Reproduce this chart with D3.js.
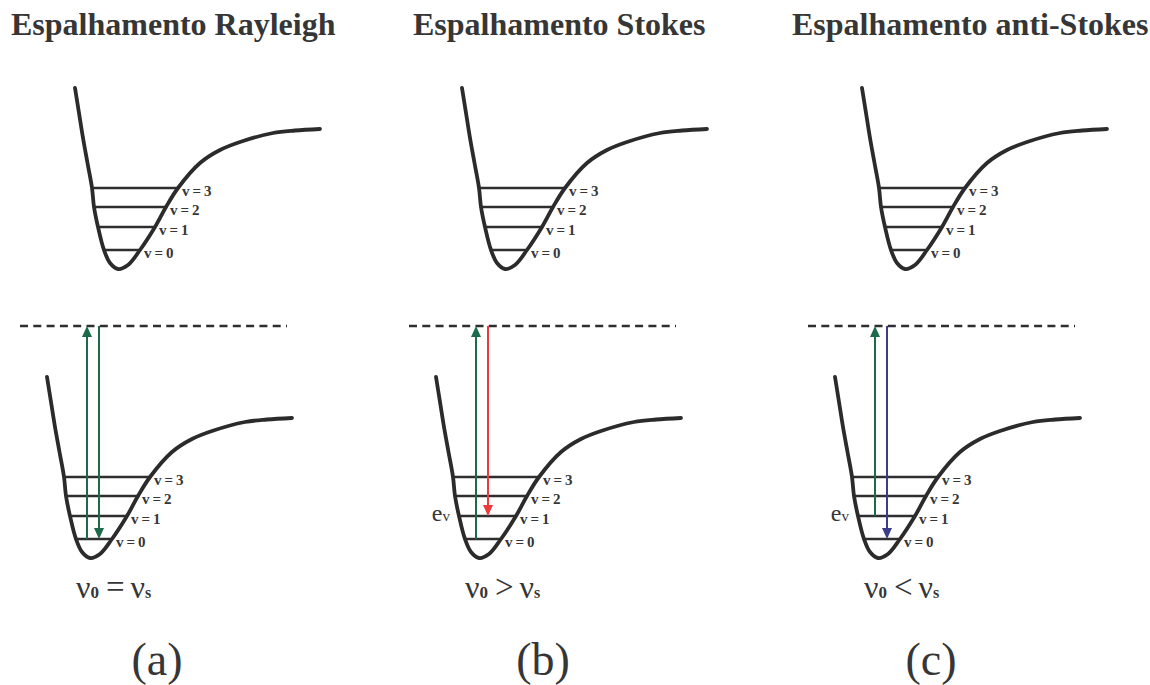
<!DOCTYPE html>
<html>
<head>
<meta charset="utf-8">
<script src="https://cdn.jsdelivr.net/npm/d3@7"></script>
<style>
  body { margin: 0; background: #fff; }
  svg { display: block; }
  text { font-family: "Liberation Serif", "Times New Roman", serif; fill: #363636; }
</style>
</head>
<body>
<div id="chart"></div>
<script>
// potential well shape (r = internuclear distance, E = energy)
var wellR = [0, 4, 8, 12.5, 17, 19, 23, 29, 35, 43, 53, 65, 80, 91, 103, 125, 145, 165, 198, 220, 245];
var wellE = [181, 156, 131, 106, 81, 62, 42, 19, 6, 0, 4, 19, 42, 62, 81, 106, 119, 127, 136, 138.5, 140];

// vibrational levels v = 0..3
var levelNames = ["v = 0", "v = 1", "v = 2", "v = 3"];
var levelE = [19, 42, 62, 81];
var levelLeft = [29, 23, 19, 17];
var levelRight = [65, 80, 91, 103];

// virtual state (dashed line)
var virtualE = 232;
var virtualR = [-27, 240];

var titles = ["Espalhamento Rayleigh", "Espalhamento Stokes", "Espalhamento anti-Stokes"];
var panelTags = ["(a)", "(b)", "(c)"];
var relations = ["=", ">", "<"];
// transitions: up from level, down to level
var upFrom = [0, 0, 1];
var downTo = [0, 1, 0];
var downColors = ["#1b6b4b", "#ec3a3c", "#3a3d8a"];
var upColor = "#1b6b4b";
var showEv = [false, true, true];

const W = 1150, H = 685;
var upperX = [75, 462, 862], upperY = 269;
var lowerX = [47, 436, 835], lowerY = 558;
var titleX = [11, 413, 792];
var tagX = [157, 543, 931];

var svg = d3.select("#chart").append("svg")
  .attr("width", W)
  .attr("height", H);

svg.append("rect").attr("width", W).attr("height", H).attr("fill", "#fff");

var wellPts = wellR.map((r, i) => [r, wellE[i]]);

function drawWell(g, ox, oy, lower, p) {
  var x = d3.scaleLinear().domain([0, 245]).range([ox, ox + 245]);
  var y = d3.scaleLinear().domain([0, 181]).range([oy, oy - 181]);

  var line = d3.line()
    .x(d => x(d[0]))
    .y(d => y(d[1]))
    .curve(d3.curveCatmullRom.alpha(0.5));

  // levels
  g.selectAll(".level")
    .data(levelE).enter()
    .append("line")
    .attr("class", "level")
    .attr("x1", (d, i) => x(levelLeft[i]))
    .attr("x2", (d, i) => x(levelRight[i]))
    .attr("y1", d => y(d))
    .attr("y2", d => y(d))
    .attr("stroke", "#2e2e2e")
    .attr("stroke-width", 2.4);

  g.append("path")
    .attr("d", line(wellPts))
    .attr("fill", "none")
    .attr("stroke", "#2b2b2b")
    .attr("stroke-width", 3.8)
    .attr("stroke-linecap", "round");

  g.selectAll(".vlab")
    .data(levelNames).enter()
    .append("text")
    .attr("class", "vlab")
    .attr("x", (d, i) => x(levelRight[i]) + 4)
    .attr("y", (d, i) => y(levelE[i]) + 8)
    .attr("font-size", 15)
    .attr("font-weight", "bold")
    .attr("letter-spacing", -0.4)
    .text(d => d);

  if (!lower) return;

  // virtual state
  g.append("line")
    .attr("x1", x(virtualR[0]))
    .attr("x2", x(virtualR[1]))
    .attr("y1", y(virtualE))
    .attr("y2", y(virtualE))
    .attr("stroke", "#2e2e2e")
    .attr("stroke-width", 2.4)
    .attr("stroke-dasharray", "8,5.3");

  function arrow(r, eFrom, eTo, color) {
    var x0 = x(r), y0 = y(eFrom), y1 = y(eTo);
    var dir = y1 < y0 ? 1 : -1; // 1 = pointing up
    g.append("line")
      .attr("x1", x0).attr("x2", x0)
      .attr("y1", y0).attr("y2", y1 + dir * 8)
      .attr("stroke", color)
      .attr("stroke-width", 2);
    g.append("path")
      .attr("d", `M${x0},${y1} L${x0 - 5},${y1 + dir * 11} L${x0 + 5},${y1 + dir * 11} Z`)
      .attr("fill", color);
  }

  arrow(40, levelE[upFrom[p]], virtualE, upColor);
  arrow(52, virtualE, levelE[downTo[p]], downColors[p]);

  if (showEv[p]) {
    var ev = g.append("text")
      .attr("x", x(14))
      .attr("y", y(levelE[1]) + 5)
      .attr("text-anchor", "end");
    ev.append("tspan").attr("font-size", 24).text("e");
    ev.append("tspan").attr("font-size", 15).text("v");
  }

  // frequency relation
  var f = g.append("text")
    .attr("x", x(29))
    .attr("y", 598);
  f.append("tspan").attr("font-size", 32).text("\u03BD");
  f.append("tspan").attr("font-size", 17).attr("font-weight", "bold").text("0");
  f.append("tspan").attr("font-size", 33).attr("dx", 7).text(relations[p]);
  f.append("tspan").attr("font-size", 32).attr("dx", 6).text("\u03BD");
  f.append("tspan").attr("font-size", 16).attr("font-weight", "bold").text("s");
}

titles.forEach(function (t, p) {
  var g = svg.append("g").attr("class", "panel");
  g.append("text")
    .attr("x", titleX[p])
    .attr("y", 35)
    .attr("font-size", 32)
    .attr("font-weight", "bold")
    .text(t);

  drawWell(g.append("g"), upperX[p], upperY, false, p);
  drawWell(g.append("g"), lowerX[p], lowerY, true, p);

  g.append("text")
    .attr("x", tagX[p])
    .attr("y", 675)
    .attr("text-anchor", "middle")
    .attr("font-size", 46)
    .text(panelTags[p]);
});
</script>
</body>
</html>
